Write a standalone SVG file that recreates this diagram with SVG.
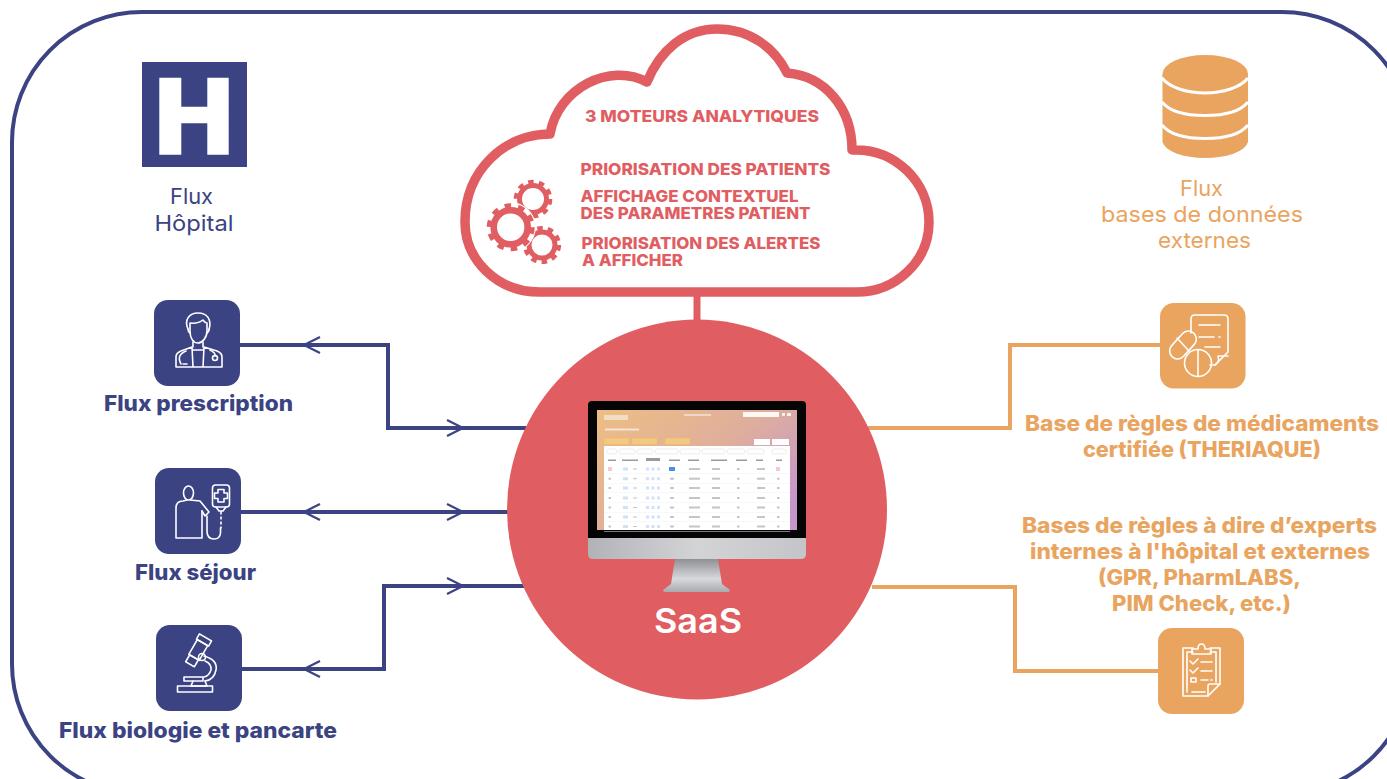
<svg xmlns="http://www.w3.org/2000/svg" xmlns:xlink="http://www.w3.org/1999/xlink" width="1387" height="779" viewBox="0 0 1387 779">
<style>
text{font-family:"Inter","Open Sans","Liberation Sans",sans-serif}
.b{font-weight:800}
.nt{fill:#3b4383}.ot{fill:#e9a45f}.rt{fill:#e05e62}
.s17{font-size:16.500px}.s22{font-size:22px}.s21{font-size:21.500px}
.nbox{fill:#3b4383}.obox{fill:#e9a45f}
.ic{fill:none;stroke:#fff;stroke-width:1.600;stroke-linecap:round;stroke-linejoin:round}
.cn{fill:none;stroke:#3b4383;stroke-width:4}
.co{fill:none;stroke:#e9a45f;stroke-width:4}
.ch{fill:none;stroke:#3b4383;stroke-width:2.200}
.tb{fill:#c4c4c9}.tl{fill:#eef0f3}.tc{fill:#cfe2f7}.th{fill:#9a9aa2}
</style>
<defs>
<linearGradient id="scr" x1="0" y1="0" x2="1" y2="0.75"><stop offset="0" stop-color="#edbe84"/><stop offset="0.55" stop-color="#dfae9c"/><stop offset="1" stop-color="#c596cc"/></linearGradient>
<linearGradient id="chin" x1="0" y1="0" x2="1" y2="0"><stop offset="0" stop-color="#b2b3b7"/><stop offset="0.5" stop-color="#d3d4d6"/><stop offset="1" stop-color="#c4c5c8"/></linearGradient>
<linearGradient id="stand" x1="0" y1="0" x2="0" y2="1"><stop offset="0" stop-color="#8f9094"/><stop offset="0.6" stop-color="#d8d9db"/><stop offset="1" stop-color="#a9aaae"/></linearGradient>
<g id="row">
<rect x="608.500" y="-1" width="2.500" height="2" class="tb"/><rect x="623" y="-1.500" width="5" height="3" class="tc"/><rect x="633" y="-0.500" width="4" height="1" class="tb"/>
<rect x="646" y="-1.500" width="3" height="3" class="tc"/><rect x="651.500" y="-1.500" width="3" height="3" class="tc"/><rect x="657" y="-1.500" width="3" height="3" class="tc"/>
<rect x="670" y="-1" width="4" height="2" class="tb"/><rect x="689" y="-1" width="11" height="2" class="tb"/><rect x="712" y="-1" width="8" height="2" class="tb"/><rect x="737" y="-1" width="2.500" height="2" class="tb"/><rect x="757" y="-1" width="8" height="2" class="tb"/><rect x="777" y="-1" width="2.500" height="2" class="tb"/>
<rect x="604" y="4.500" width="186" height="0.500" class="tl"/>
</g>
</defs>
<rect width="1387" height="779" fill="#fff"/>
<rect x="12" y="12" width="1400" height="782" rx="130" fill="none" stroke="#3b4383" stroke-width="4"/>

<g id="connectors">
<path class="cn" d="M240 345H388V428H526"/>
<path class="cn" d="M240 512H510"/>
<path class="cn" d="M240 669H384V586H526"/>
<path class="co" d="M868 428H1010V345H1160"/>
<path class="co" d="M872 587H1015V671H1158"/>
<path d="M697 292V325" fill="none" stroke="#e05e62" stroke-width="7"/>
<path class="ch" d="M320 337L304 345L320 353"/><path class="ch" d="M447 420L463 428L447 436"/>
<path class="ch" d="M320 504L304 512L320 520"/><path class="ch" d="M447 504L463 512L447 520"/>
<path class="ch" d="M320 661L304 669L320 677"/><path class="ch" d="M447 578L463 586L447 594"/>
</g>

<g id="cloud">
<path d="M540 292C497 292 465 260 465 222C465 170 505 134 550 134C558 88 610 62 647 82C660 50 685 29 717 29C750 29 775 48 787 73C825 76 852 108 852 150C895 148 929 182 929 222C929 262 895 292 857 292Z" fill="#fff" stroke="#e05e62" stroke-width="9.500" stroke-linejoin="round"/>
<text class="b rt s17" x="585" y="122" textLength="234" lengthAdjust="spacingAndGlyphs">3 MOTEURS ANALYTIQUES</text>
<text class="b rt s17" x="580.500" y="175" textLength="250" lengthAdjust="spacingAndGlyphs">PRIORISATION DES PATIENTS</text>
<text class="b rt s17" x="580.500" y="202" textLength="218" lengthAdjust="spacingAndGlyphs">AFFICHAGE CONTEXTUEL</text>
<text class="b rt s17" x="580.500" y="219" textLength="230" lengthAdjust="spacingAndGlyphs">DES PARAMETRES PATIENT</text>
<text class="b rt s17" x="581.500" y="249" textLength="239" lengthAdjust="spacingAndGlyphs">PRIORISATION DES ALERTES</text>
<text class="b rt s17" x="582" y="266" textLength="101" lengthAdjust="spacingAndGlyphs">A AFFICHER</text>
<g id="gears" fill="none" stroke="#e05e62">
<circle cx="533" cy="199" r="13.500" stroke-width="5"/>
<circle cx="533" cy="199" r="17" stroke-width="4.600" stroke-dasharray="5.500 5.180"/>
<circle cx="542" cy="245" r="13" stroke-width="5"/>
<circle cx="542" cy="245" r="16.800" stroke-width="4.600" stroke-dasharray="5.500 5.056"/>
<circle cx="510.700" cy="227.300" r="19" stroke="#fff" stroke-width="12"/>
<circle cx="510.700" cy="227.300" r="17" stroke-width="6.600"/>
<circle cx="510.700" cy="227.300" r="21.500" stroke-width="5" stroke-dasharray="6.500 7.009"/>
</g>
</g>

<g id="saas">
<circle cx="697" cy="509.500" r="190" fill="#e05e62"/>
<path d="M675 559H718L722 584L730 590L729 592H664L663 590L671 584Z" fill="url(#stand)"/>
<path d="M588 538H806V554Q806 559 801 559H593Q588 559 588 554Z" fill="url(#chin)"/>
<path d="M588 538V405Q588 401 592 401H802Q806 401 806 405V538Z" fill="#050505"/>
<rect x="597" y="410" width="200" height="120" fill="url(#scr)"/>
<rect x="604" y="415" width="24" height="5" fill="#f7ecdc" opacity="0.700"/>
<rect x="684" y="414" width="27" height="2" fill="#f5e6dc" opacity="0.700"/>
<rect x="743" y="412" width="36" height="5" fill="#fff" opacity="0.900"/>
<rect x="782" y="413" width="3" height="3" fill="#fff" opacity="0.800"/><rect x="787" y="413" width="4" height="3" fill="#fff" opacity="0.800"/>
<rect x="605" y="428.500" width="34" height="2" fill="#fff" opacity="0.600"/>
<g fill="#f3c982" stroke="#f0b860" stroke-width="0.500">
<rect x="604" y="438" width="25" height="6.500"/><rect x="632" y="438" width="25" height="6.500"/><rect x="665" y="438" width="25" height="6.500"/>
</g>
<rect x="754" y="439" width="16" height="6" fill="#fff"/><rect x="772" y="439" width="17" height="6" fill="#fff"/>
<rect x="604" y="446" width="186" height="84" fill="#fff"/>
<g fill="#fff" stroke="#e4e4e6" stroke-width="0.700">
<rect x="607" y="449" width="10" height="5" rx="2"/><rect x="619" y="449" width="16" height="5" rx="2"/><rect x="637" y="449" width="16" height="5" rx="2"/><rect x="655" y="449" width="23" height="5" rx="2"/><rect x="680" y="449" width="20" height="5" rx="2"/><rect x="702" y="449" width="23" height="5" rx="2"/><rect x="727" y="449" width="18" height="5" rx="2"/><rect x="747" y="449" width="17" height="5" rx="2"/><rect x="772" y="449" width="14" height="5" rx="2"/>
</g>
<g class="th">
<rect x="608" y="459.500" width="8" height="1.500"/><rect x="622" y="459.500" width="16" height="1.500"/><rect x="646" y="458" width="14" height="3"/><rect x="669" y="459.500" width="11" height="1.500"/><rect x="688" y="459.500" width="11" height="1.500"/><rect x="711" y="459.500" width="16" height="1.500"/><rect x="736" y="459.500" width="11" height="1.500"/><rect x="756" y="459.500" width="7" height="1.500"/><rect x="776" y="459.500" width="6" height="1.500"/>
</g>
<use xlink:href="#row" href="#row" y="469"/><use xlink:href="#row" href="#row" y="478.700"/><use xlink:href="#row" href="#row" y="488"/><use xlink:href="#row" href="#row" y="498"/><use xlink:href="#row" href="#row" y="507.500"/><use xlink:href="#row" href="#row" y="517"/><use xlink:href="#row" href="#row" y="526.500"/>
<rect x="669" y="467" width="6" height="4" fill="#4a90e8"/>
<rect x="608" y="467" width="4" height="4" fill="#f7c9c9"/><rect x="776" y="467" width="4" height="4" fill="#f7c9c9"/>
<text x="698" y="633" text-anchor="middle" fill="#fff" font-size="34" font-weight="600" textLength="88" lengthAdjust="spacingAndGlyphs">SaaS</text>
</g>

<g id="hopital">
<rect x="142" y="62" width="105" height="105" fill="#3b4383"/>
<path d="M159.300 77.700H181.300V106.700H207.300V77.700H228.700V154.700H207.300V123.300H181.300V154.700H159.300Z" fill="#fff"/>
<text class="nt s22" x="191.500" y="204" text-anchor="middle" textLength="43" lengthAdjust="spacingAndGlyphs">Flux</text>
<text class="nt s22" x="194" y="231" text-anchor="middle" textLength="79" lengthAdjust="spacingAndGlyphs">Hôpital</text>
</g>

<g id="prescription">
<rect class="nbox" x="154" y="300" width="86" height="86" rx="14"/>
<g class="ic">
<path d="M188 329C184 320 189 313 198 313C207 313 212 319 209 330"/>
<path d="M190 323Q198 324 203 320Q205 323 207 323V331C207 338 202 343 198 343C193 343 190 338 190 331Z"/>
<path d="M188 329Q188 332 190 333M209 329Q209 332 207 333"/>
<path d="M193 342V347M203 342V347"/>
<path d="M176 367V357Q176 353 181 351L192 347L193 367M222 367V357Q222 353 217 351L204 347L203 367M176 367H222"/>
<path d="M193 350H203"/>
<path d="M181 364Q176 355 186 351M187 364H183M210 350Q216 353 215 356"/>
<circle cx="215" cy="358" r="2.500"/>
</g>
<text class="b nt s21" x="104" y="411" textLength="189" lengthAdjust="spacingAndGlyphs">Flux prescription</text>
</g>

<g id="sejour">
<rect class="nbox" x="155" y="468" width="86" height="86" rx="14"/>
<g class="ic">
<ellipse cx="188.500" cy="493" rx="5" ry="7"/>
<path d="M202 511V538H176V508Q176 501 183 501L187 500"/>
<path d="M190 500L200 501L209 512L205 516L202 511"/>
<rect x="212.500" y="485" width="17" height="22" rx="3"/>
<path d="M218 489.500H224V493H227.500V498.500H224V502H218V498.500H214.500V493H218Z"/>
<path d="M216 507L219 511H223L226 507M221 511V514"/>
<path d="M221 517V519M221 522V524M221 527V528"/>
<path d="M220.500 528V533Q220 539 214 539Q207 539 207 531V516"/>
</g>
<text class="b nt s21" x="135" y="580" textLength="121" lengthAdjust="spacingAndGlyphs">Flux séjour</text>
</g>

<g id="biologie">
<rect class="nbox" x="156" y="625" width="86" height="86" rx="14"/>
<g class="ic">
<rect x="177.500" y="686" width="35" height="6"/>
<path d="M184 677H203V681H184Z"/>
<path d="M193 681L191 686H207L205 681"/>
<path d="M204 656Q218 660 216 670Q214 680 205 681M205 661Q212 664 211 670Q209 676 204 677"/>
<circle cx="202" cy="657" r="3.500"/>
<g transform="translate(204 640) rotate(30)">
<rect x="-7" y="-3" width="14" height="6"/>
<rect x="-6" y="3" width="12" height="17"/>
<rect x="-5" y="20" width="10" height="8"/>
</g>
</g>
<text class="b nt s21" x="59" y="738" textLength="278" lengthAdjust="spacingAndGlyphs">Flux biologie et pancarte</text>
</g>

<g id="bases">
<path d="M1162.500 74V142A43 18 0 0 0 1248 142V74Z" fill="#e9a45f"/>
<ellipse cx="1205.300" cy="74" rx="42.800" ry="19" fill="#e9a45f"/>
<g fill="none" stroke="#fff" stroke-width="3">
<path d="M1162 78C1170 88 1188 93 1205 93C1222 93 1240 88 1248 78"/>
<path d="M1162 102C1170 112 1188 115.500 1205 115.500C1222 115.500 1240 112 1248 102"/>
<path d="M1162 125C1170 135 1188 138.500 1205 138.500C1222 138.500 1240 135 1248 125"/>
</g>
<text class="ot s22" x="1201.500" y="196" text-anchor="middle" textLength="43" lengthAdjust="spacingAndGlyphs">Flux</text>
<text class="ot s22" x="1202" y="222" text-anchor="middle" textLength="202" lengthAdjust="spacingAndGlyphs">bases de données</text>
<text class="ot s22" x="1204.500" y="248" text-anchor="middle" textLength="93" lengthAdjust="spacingAndGlyphs">externes</text>
</g>

<g id="theriaque">
<rect class="obox" x="1160" y="303" width="85.500" height="85.500" rx="14"/>
<g class="ic">
<path d="M1191 333V319Q1191 315 1195 315H1224Q1228 315 1228 319V352L1215 365H1210"/>
<path d="M1215 365Q1220 362 1218 356H1228"/>
<path d="M1199 325H1220M1199 337H1214M1219 337H1220M1205 347H1220"/>
<rect x="1167" y="337" width="32" height="16" rx="8" transform="rotate(-48 1183 345)"/>
<path d="M1177 338L1189 351"/>
<circle cx="1198" cy="363" r="13.500"/>
<path d="M1198 350V376"/>
</g>
<text class="b ot s21" x="1025" y="431" textLength="354" lengthAdjust="spacingAndGlyphs">Base de règles de médicaments</text>
<text class="b ot s21" x="1083" y="457" textLength="238" lengthAdjust="spacingAndGlyphs">certifiée (THERIAQUE)</text>
</g>

<g id="experts">
<text class="b ot s21" x="1022" y="533" textLength="355" lengthAdjust="spacingAndGlyphs">Bases de règles à dire d’experts</text>
<text class="b ot s21" x="1030" y="559" textLength="340" lengthAdjust="spacingAndGlyphs">internes à l'hôpital et externes</text>
<text class="b ot s21" x="1098" y="585" textLength="203" lengthAdjust="spacingAndGlyphs">(GPR, PharmLABS,</text>
<text class="b ot s21" x="1112" y="611" textLength="179" lengthAdjust="spacingAndGlyphs">PIM Check, etc.)</text>
<rect class="obox" x="1158" y="628" width="86" height="86" rx="14"/>
<g class="ic">
<path d="M1193 648H1183V696H1208L1220 684V648H1210"/>
<path d="M1187 692V652H1193M1210 652H1216V682"/>
<path d="M1192 654V649H1198Q1198 644 1201.500 644Q1205 644 1205 649H1211V654Z"/>
<path d="M1208 696V686Q1208 684 1210 684H1220"/>
<path d="M1190 661L1193 664L1198 659M1201 662H1212"/>
<path d="M1190 670L1193 673L1198 668M1201 671H1212"/>
<rect x="1191" y="678" width="5" height="4"/>
<path d="M1201 680H1208M1211 680H1212M1192 692H1205"/>
</g>
</g>
</svg>
